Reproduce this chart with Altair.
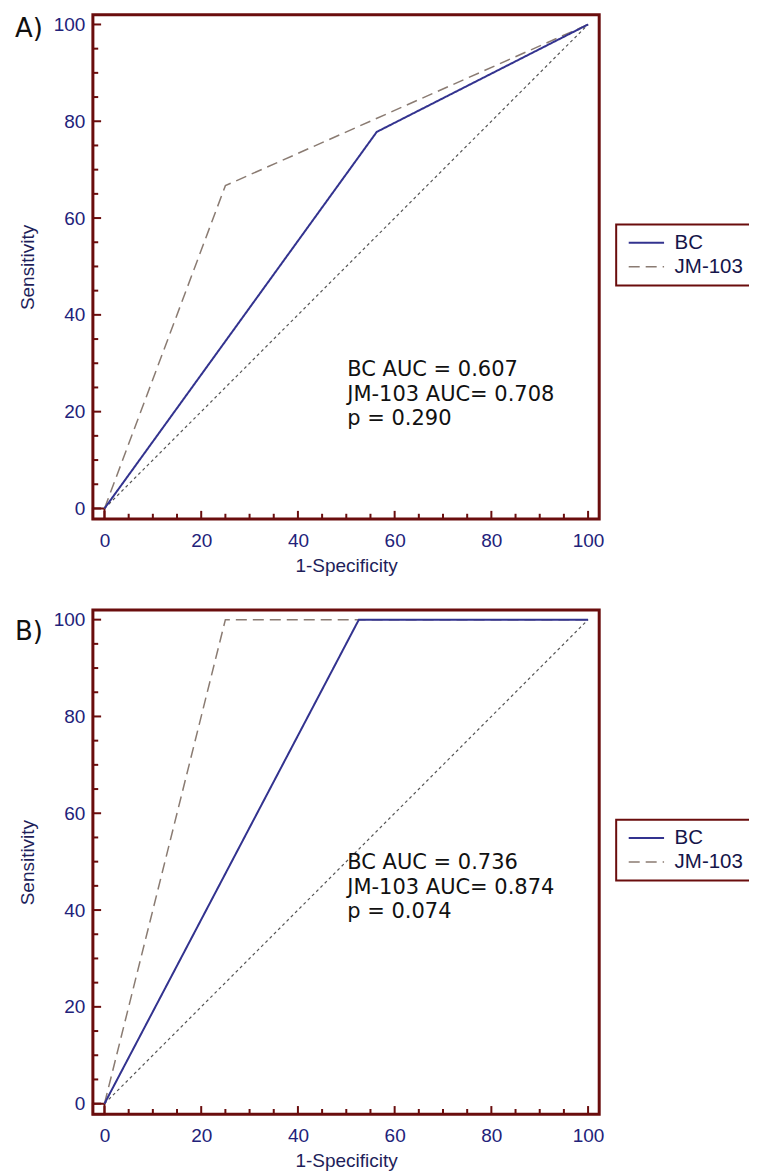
import altair as alt
import pandas as pd

# ---------------- data ----------------
series_names = ["BC", "JM-103"]
panel_labels = ["A)", "B)"]

# Panel A ROC points (1-Specificity, Sensitivity)
a_bc_x = [0, 56.3, 100]
a_bc_y = [0, 77.8, 100]
a_jm_x = [0, 25, 100]
a_jm_y = [0, 66.7, 100]

# Panel B ROC points
b_bc_x = [0, 52.6, 100]
b_bc_y = [0, 100, 100]
b_jm_x = [0, 25, 100]
b_jm_y = [0, 100, 100]

# reference diagonal
diag_x = [0, 100]
diag_y = [0, 100]

# annotations
a_text = ["BC AUC = 0.607", "JM-103 AUC= 0.708", "p = 0.290"]
a_text_x = [50.2, 50.2, 50.2]
a_text_y = [28.6, 23.5, 18.4]
b_text = ["BC AUC = 0.736", "JM-103 AUC= 0.874", "p = 0.074"]
b_text_x = [50.2, 50.2, 50.2]
b_text_y = [49.7, 44.6, 39.5]

major_ticks = [0, 20, 40, 60, 80, 100]
minor_ticks = [5, 10, 15, 25, 30, 35, 45, 50, 55, 65, 70, 75, 85, 90, 95]

# ---------------- style ----------------
MAROON = "#6a0d0d"
NAVY = "#22227a"
TITLE_NAVY = "#1e1e5a"
BC_COLOR = "#33338f"
JM_COLOR = "#8a7b72"
XMIN, XMAX = -2.4, 102.3
YMIN, YMAX = -2.2, 102.0
W, H = 507, 505
MAJOR_LEN_X, MINOR_LEN_X = 1.7, 1.1   # in data units (x)
MAJOR_LEN_Y, MINOR_LEN_Y = 1.7, 1.1   # in data units (y)
SANS = "Liberation Sans"


def panel(label, bc_x, bc_y, jm_x, jm_y, txt, txt_x, txt_y, label_y, legend_y):
    xs = alt.Scale(domain=[XMIN, XMAX], nice=False, zero=False)
    ys = alt.Scale(domain=[YMIN, YMAX], nice=False, zero=False)
    xaxis = alt.Axis(values=major_ticks, ticks=False, domain=False, grid=False,
                     labelFont=SANS, labelFontSize=19, labelColor=NAVY,
                     labelPadding=12, labelFlush=False, labelOverlap=False,
                     title="1-Specificity", titleFont=SANS, titleFontSize=19,
                     titleFontWeight="normal", titleColor=TITLE_NAVY, titlePadding=6)
    yaxis = alt.Axis(values=major_ticks, ticks=False, domain=False, grid=False,
                     labelFont=SANS, labelFontSize=19, labelColor=NAVY,
                     labelPadding=8, labelFlush=False, labelOverlap=False,
                     title="Sensitivity", titleFont=SANS, titleFontSize=19,
                     titleFontWeight="normal", titleColor=TITLE_NAVY, titlePadding=16)

    curves = pd.DataFrame({
        "series": ["JM-103"] * len(jm_x) + ["BC"] * len(bc_x),
        "x": jm_x + bc_x,
        "y": jm_y + bc_y,
        "ord": list(range(len(jm_x))) + list(range(len(bc_x))),
    })
    legend = alt.Legend(orient="none", legendX=524, legendY=legend_y, title=None,
                        strokeColor=MAROON, fillColor="white", padding=8,
                        symbolType="M-2.95,0H2.95", symbolSize=144,
                        symbolStrokeWidth=2, symbolOffset=12, labelOffset=18,
                        rowPadding=3, labelFont=SANS, labelFontSize=20.5,
                        labelColor="#15154a")

    diag = alt.Chart(pd.DataFrame({"x": diag_x, "y": diag_y})).mark_line(
        color="#555555", strokeWidth=1.2, strokeDash=[3, 3]
    ).encode(
        x=alt.X("x:Q", scale=xs, axis=xaxis),
        y=alt.Y("y:Q", scale=ys, axis=yaxis),
    )

    lines = alt.Chart(curves).mark_line().encode(
        x=alt.X("x:Q", scale=xs, axis=xaxis),
        y=alt.Y("y:Q", scale=ys, axis=yaxis),
        order="ord:Q",
        color=alt.Color("series:N", scale=alt.Scale(domain=series_names, range=[BC_COLOR, JM_COLOR]), legend=legend),
        strokeDash=alt.StrokeDash("series:N", scale=alt.Scale(domain=series_names, range=[[1, 0], [11, 6]]), legend=legend),
        strokeWidth=alt.StrokeWidth("series:N", scale=alt.Scale(domain=series_names, range=[2, 1.5]), legend=None),
    )

    xt = pd.DataFrame({"v": major_ticks + minor_ticks,
                       "len": [MAJOR_LEN_Y] * len(major_ticks) + [MINOR_LEN_Y] * len(minor_ticks)})
    xt["y0"] = YMIN
    xt["y1"] = YMIN + xt["len"]
    xticks = alt.Chart(xt).mark_rule(color=MAROON, strokeWidth=2).encode(
        x="v:Q", y="y0:Q", y2="y1:Q")

    yt = pd.DataFrame({"v": major_ticks + minor_ticks,
                       "len": [MAJOR_LEN_X] * len(major_ticks) + [MINOR_LEN_X] * len(minor_ticks)})
    yt["x0"] = XMIN
    yt["x1"] = XMIN + yt["len"]
    yticks = alt.Chart(yt).mark_rule(color=MAROON, strokeWidth=2).encode(
        y="v:Q", x="x0:Q", x2="x1:Q")

    corner = alt.Chart(pd.DataFrame({"x0": [XMIN], "x1": [0], "y0": [YMIN], "y1": [0]})).mark_rect(
        fillOpacity=0, stroke=MAROON, strokeWidth=2
    ).encode(x="x0:Q", x2="x1:Q", y="y0:Q", y2="y1:Q")

    ann = alt.Chart(pd.DataFrame({"t": txt, "x": txt_x, "y": txt_y})).mark_text(
        align="left", baseline="middle", font="DejaVu Sans", fontSize=21, color="#111111"
    ).encode(x="x:Q", y="y:Q", text="t:N")

    lab = alt.Chart(pd.DataFrame({"t": [label]})).mark_text(
        align="left", baseline="alphabetic", font="DejaVu Sans", fontSize=26, color="#111111"
    ).encode(text="t:N", x=alt.value(-78), y=alt.value(label_y))

    return alt.layer(diag, corner, xticks, yticks, lines, ann, lab).properties(width=W, height=H)


pa = panel(panel_labels[0], a_bc_x, a_bc_y, a_jm_x, a_jm_y, a_text, a_text_x, a_text_y, 22, 210)
pb = panel(panel_labels[1], b_bc_x, b_bc_y, b_jm_x, b_jm_y, b_text, b_text_x, b_text_y, 30, 210)

chart = alt.vconcat(pa, pb, spacing=31).resolve_scale(
    x="independent", y="independent",
    color="independent", strokeDash="independent", strokeWidth="independent"
).resolve_legend(color="independent", strokeDash="independent").properties(
    padding={"left": 5, "top": 4, "right": -5, "bottom": 0}, background="white"
).configure_view(stroke=MAROON, strokeWidth=3).configure_legend(strokeWidth=2)

chart.save("out.html", embed_options={"renderer": "svg", "actions": False})
